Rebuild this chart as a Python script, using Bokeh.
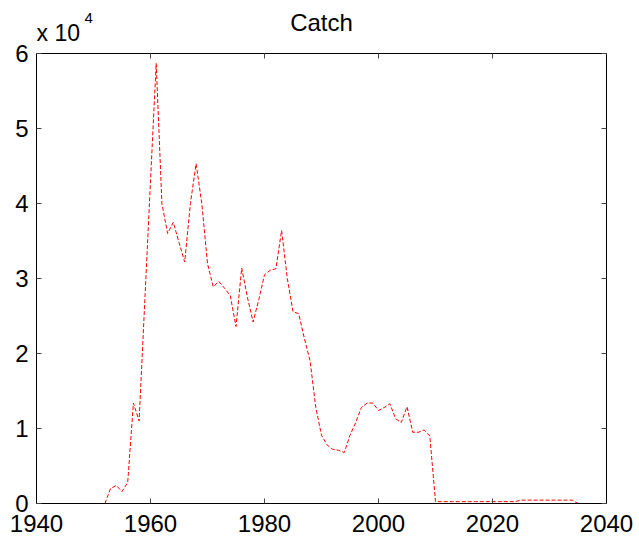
import math
from bokeh.plotting import figure
from bokeh.models import Range1d, LinearAxis, FixedTicker
from bokeh.core.properties import value
from bokeh.embed import file_html
from bokeh.resources import INLINE

# Data (catch, units of 10^4)
years = list(range(1952, 2036))
catch = [0.0, 0.20, 0.24, 0.16, 0.28, 1.34, 1.10, 2.70, 4.30, 5.87,
         4.00, 3.60, 3.75, 3.48, 3.22, 4.00, 4.53, 4.00, 3.20, 2.89,
         2.96, 2.87, 2.77, 2.36, 3.14, 2.75, 2.42, 2.72, 3.05, 3.11,
         3.13, 3.64, 3.00, 2.56, 2.53, 2.20, 1.90, 1.28, 0.91, 0.78,
         0.72, 0.71, 0.68, 0.91, 1.08, 1.28, 1.34, 1.34, 1.24, 1.28,
         1.33, 1.13, 1.08, 1.29, 0.95, 0.95, 0.98, 0.90, 0.025, 0.025,
         0.025, 0.025, 0.025, 0.025, 0.025, 0.025, 0.025, 0.025, 0.025, 0.025,
         0.025, 0.025, 0.025, 0.045, 0.045, 0.045, 0.045, 0.045, 0.045, 0.045,
         0.045, 0.045, 0.045, 0.0]
x_ticks = [1940, 1960, 1980, 2000, 2020, 2040]
y_ticks = [0, 1, 2, 3, 4, 5, 6]
title_text = "Catch"
exp_base = "x 10"
exp_power = "4"

FONT = "Liberation Sans"
X0, X1 = 1940, 2040
Y0, Y1 = 0, 6
W, H = 639, 541
BORDER_L, BORDER_R, BORDER_B = 36, 33, 38
HEAD_PX = 53                      # header band above the axes box, in pixels
PX_PER_Y = (H - BORDER_B - HEAD_PX) / (Y1 - Y0)
PX_PER_X = (W - BORDER_L - BORDER_R) / (X1 - X0)
Y_TOP = Y1 + HEAD_PX / PX_PER_Y   # frame extends over the header band

def hdr_y(px_from_top):
    return Y1 + (HEAD_PX - px_from_top) / PX_PER_Y

def hdr_x(px_from_left_edge):
    return X0 + px_from_left_edge / PX_PER_X

p = figure(width=W, height=H, output_backend="svg", toolbar_location=None,
           x_range=Range1d(X0, X1), y_range=Range1d(Y0, Y_TOP),
           x_axis_location=None, y_axis_location=None,
           min_border_left=BORDER_L, min_border_right=BORDER_R,
           min_border_top=0, min_border_bottom=BORDER_B)
p.outline_line_color = None
p.grid.visible = False
p.background_fill_color = "white"
p.border_fill_color = "white"

def style_axis(ax, show_labels, ticks):
    ax.axis_line_color = "black"
    ax.axis_line_width = 1
    ax.major_tick_in = 5
    ax.major_tick_out = 0
    ax.major_tick_line_color = "#444444"
    ax.minor_tick_line_color = None
    ax.major_label_text_font = FONT
    ax.major_label_text_color = "black"
    ax.major_label_text_font_size = "24px"
    if not show_labels:
        ax.major_label_overrides = {t: "" for t in ticks}
        ax.major_label_text_color = None
        ax.major_label_text_font_size = "1px"
        ax.major_label_standoff = 0

xb = LinearAxis(ticker=FixedTicker(ticks=x_ticks))
style_axis(xb, True, x_ticks)
xb.major_label_standoff = 11
p.add_layout(xb, "below")

yl = LinearAxis(ticker=FixedTicker(ticks=y_ticks), bounds=(Y0, Y1))
style_axis(yl, True, y_ticks)
yl.major_label_standoff = 8
p.add_layout(yl, "left")

yr = LinearAxis(ticker=FixedTicker(ticks=y_ticks), bounds=(Y0, Y1))
style_axis(yr, False, y_ticks)
p.add_layout(yr, "right")

# top edge of the axes box and its inward ticks
p.segment(x0=[X0], y0=[Y1], x1=[X1], y1=[Y1], line_color="black", line_width=1)
p.ray(x=x_ticks, y=[Y1] * len(x_ticks), length=5, length_units="screen",
      angle=-math.pi / 2, line_color="#444444", line_width=1)

# data
p.line(years, catch, line_color="#ff0000", line_width=1, line_dash="4 2")

# header texts
p.text(x=[hdr_x(285)], y=[hdr_y(22.2)], text=[title_text], text_font=value(FONT),
       text_font_size="24px", text_align="center", text_baseline="alphabetic",
       text_color="black")
p.text(x=[hdr_x(0)], y=[hdr_y(32.5)], text=[exp_base], text_font=value(FONT),
       text_font_size="23px", text_align="left", text_baseline="alphabetic",
       text_color="black")
p.text(x=[hdr_x(48)], y=[hdr_y(17)], text=[exp_power], text_font=value(FONT),
       text_font_size="15px", text_align="left", text_baseline="alphabetic",
       text_color="black")

open("out.html", "w").write(file_html(p, INLINE))
